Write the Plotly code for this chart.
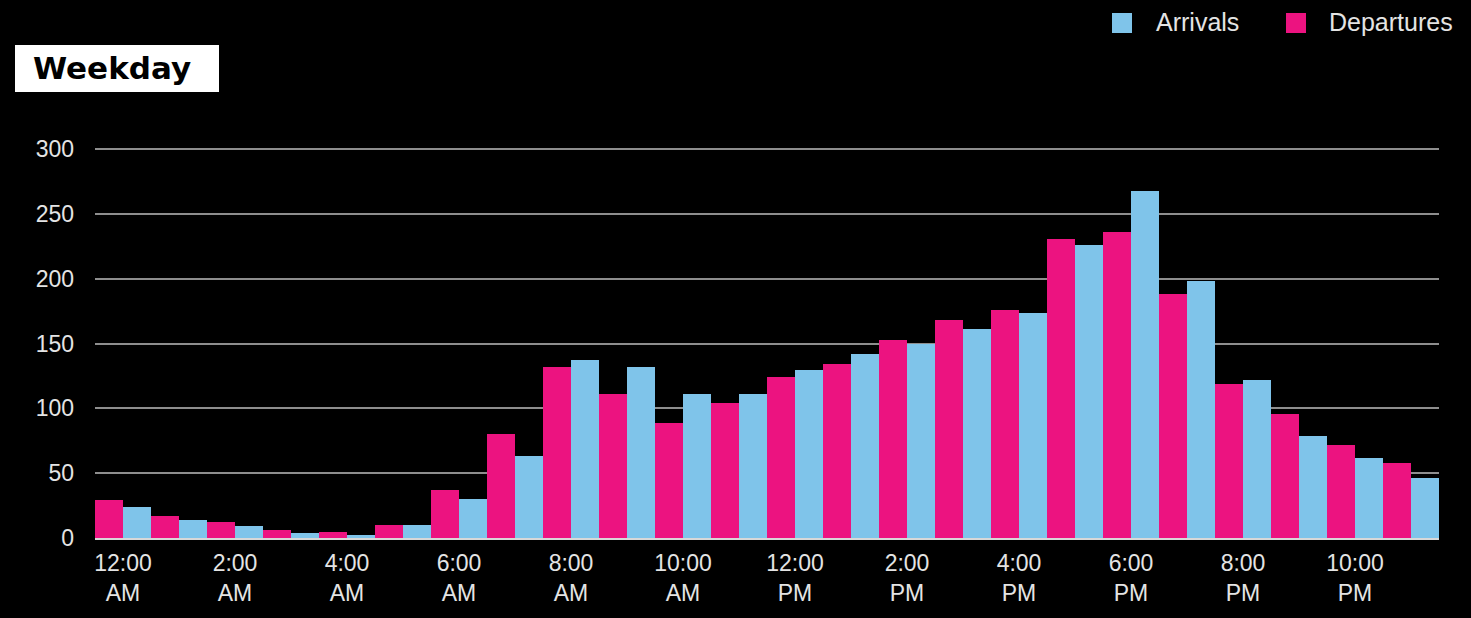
import plotly.graph_objects as go

PINK = "#EC1380"
BLUE = "#7FC4EA"
TEXT = "#E4E4E4"
GRID = "#8E8E8E"

W, H = 1471, 618
L, R, T, B = 95, 32, 148, 80

hours = list(range(24))
departures = [29, 17, 12, 6, 5, 10, 37, 80, 132, 111, 89, 104, 124, 134, 153, 168,
              176, 231, 236, 188, 119, 96, 72, 58]
arrivals = [24, 14, 9, 4, 2, 10, 30, 63, 137, 132, 111, 111, 130, 142, 150, 161,
            174, 226, 268, 198, 122, 79, 62, 46]
tick_hours = [0, 2, 4, 6, 8, 10, 12, 14, 16, 18, 20, 22]
tick_text = ["12:00<br>AM", "2:00<br>AM", "4:00<br>AM", "6:00<br>AM", "8:00<br>AM",
             "10:00<br>AM", "12:00<br>PM", "2:00<br>PM", "4:00<br>PM", "6:00<br>PM",
             "8:00<br>PM", "10:00<br>PM"]
y_ticks = [0, 50, 100, 150, 200, 250, 300]


def px_x(x):
    return (x - L) / (W - L - R)


def px_y(y):
    return (H - B - y) / (H - T - B)


fig = go.Figure()
fig.add_trace(go.Bar(x=hours, y=departures, name="Departures", marker_color=PINK,
                     marker_line_width=0, showlegend=False))
fig.add_trace(go.Bar(x=hours, y=arrivals, name="Arrivals", marker_color=BLUE,
                     marker_line_width=0, showlegend=False))

shapes = [
    # title box
    dict(type="rect", xref="paper", yref="paper", x0=px_x(15), x1=px_x(219),
         y0=px_y(92), y1=px_y(45), fillcolor="white", line_width=0, layer="above"),
    # legend swatches
    dict(type="rect", xref="paper", yref="paper", x0=px_x(1112), x1=px_x(1132),
         y0=px_y(33), y1=px_y(13), fillcolor=BLUE, line_width=0),
    dict(type="rect", xref="paper", yref="paper", x0=px_x(1286), x1=px_x(1306),
         y0=px_y(33), y1=px_y(13), fillcolor=PINK, line_width=0),
]

annotations = [
    dict(text="<b>Weekday</b>", xref="paper", yref="paper", x=px_x(31), y=px_y(68),
         xanchor="left", yanchor="middle", showarrow=False,
         font=dict(family="DejaVu Sans", size=31, color="black")),
    dict(text="Arrivals", xref="paper", yref="paper", x=px_x(1154), y=px_y(22),
         xanchor="left", yanchor="middle", showarrow=False,
         font=dict(family="Liberation Sans", size=25, color=TEXT)),
    dict(text="Departures", xref="paper", yref="paper", x=px_x(1327), y=px_y(22),
         xanchor="left", yanchor="middle", showarrow=False,
         font=dict(family="Liberation Sans", size=25, color=TEXT)),
]

fig.update_layout(
    width=W, height=H,
    paper_bgcolor="black",
    plot_bgcolor="black",
    font=dict(family="Liberation Sans", size=23, color=TEXT),
    margin=dict(l=L, r=R, t=T, b=B),
    barmode="group",
    bargap=0,
    bargroupgap=0,
    shapes=shapes,
    annotations=annotations,
    showlegend=False,
)
fig.update_xaxes(range=[-0.5, 23.5], tickvals=tick_hours, ticktext=tick_text,
                 showgrid=False, showline=False, zeroline=False, ticks="",
                 ticklabelstandoff=9, tickfont=dict(size=23, color=TEXT))
fig.update_yaxes(range=[0, 301], tickvals=y_ticks, showgrid=True, gridcolor=GRID,
                 gridwidth=1.5, zeroline=True, zerolinecolor="#D8D8D8", zerolinewidth=2.5,
                 ticks="", ticklabelstandoff=20, tickfont=dict(size=23, color=TEXT))

fig.write_html("out.html", config={"displayModeBar": False},
               post_script="document.body.style.margin='0';")
